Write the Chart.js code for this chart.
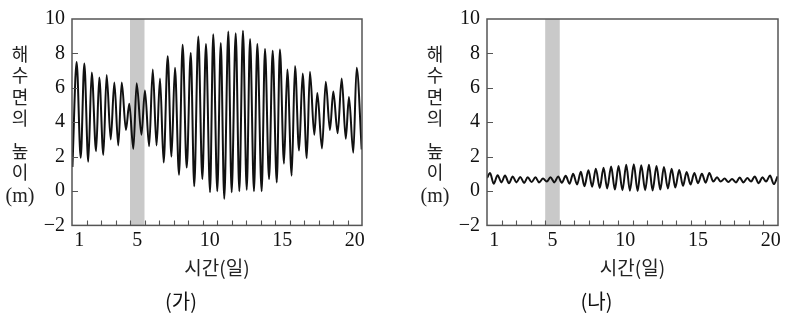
<!DOCTYPE html>
<html><head><meta charset="utf-8">
<script src="https://cdn.jsdelivr.net/npm/chart.js@4.4.0/dist/chart.umd.min.js"></script>
<style>
html,body{margin:0;padding:0;background:#fff;width:785px;height:325px;overflow:hidden}
#a{position:absolute;left:0;top:0}
#b{position:absolute;left:415px;top:0}
</style></head>
<body>
<div id="a"><canvas id="ca" width="392" height="325"></canvas></div>
<div id="b"><canvas id="cb" width="370" height="325"></canvas></div>
<script>
// ---- data ----
const dayLabels = [1, 5, 10, 15, 20];
const yTicks = [-2, 0, 2, 4, 6, 8, 10];
const band = [4, 5];           // day 5 shaded
const panelLabels = ['(가)', '(나)'];
const xTitle = '시간(일)';
const yTitleChars = ['해', '수', '면', '의', '높', '이', '(m)'];

// (가): successive low / high water times (days) and heights (m)
const timesA = [0.03,0.32,0.60,0.85,1.12,1.36,1.66,1.88,2.16,2.39,
  2.67,2.92,3.19,3.43,3.72,3.95,4.23,4.46,4.79,5.03,
  5.32,5.57,5.83,6.07,6.32,6.60,6.86,7.10,7.38,7.63,
  7.91,8.19,8.43,8.71,8.99,9.24,9.52,9.74,10.02,10.26,
  10.50,10.78,11.01,11.29,11.54,11.79,12.05,12.28,12.55,12.78,
  13.08,13.31,13.59,13.84,14.12,14.34,14.62,14.85,15.15,15.38,
  15.66,15.91,16.19,16.41,16.71,16.92,17.24,17.50,17.79,18.02,
  18.32,18.60,18.88,19.10,19.40,19.63,19.98];
const levelsA = [1.4,7.5,1.93,7.42,1.7,6.89,2.31,6.6,2.1,6.75,
  3.0,6.31,2.65,6.31,3.55,5.07,2.45,6.26,3.27,5.84,
  2.6,7.07,2.65,6.54,1.65,7.84,2.0,7.17,0.95,8.5,
  1.36,8.03,0.28,8.98,0.7,8.54,-0.07,9.11,-0.01,8.6,
  -0.45,9.27,-0.07,9.17,-0.01,9.32,0.07,8.83,-0.01,8.54,
  -0.01,8.26,0.7,8.16,0.5,8.22,1.59,7.07,0.89,7.27,
  2.35,6.83,1.9,6.93,3.27,5.7,2.47,6.35,3.55,5.78,
  3.36,6.54,3.04,5.46,2.22,7.17,2.41];

// (나)
const timesB = [0.00,0.21,0.46,0.73,0.99,1.24,1.51,1.77,2.02,2.29,
  2.55,2.80,3.07,3.33,3.58,3.85,4.11,4.36,4.63,4.89,
  5.14,5.41,5.67,5.92,6.19,6.45,6.70,6.97,7.23,7.48,
  7.75,8.01,8.26,8.53,8.79,9.04,9.31,9.57,9.82,10.09,
  10.35,10.60,10.87,11.13,11.38,11.65,11.91,12.16,12.43,12.69,
  12.94,13.21,13.47,13.72,13.99,14.25,14.50,14.77,15.03,15.28,
  15.55,15.81,16.06,16.33,16.59,16.84,17.11,17.37,17.62,17.89,
  18.15,18.40,18.67,18.93,19.18,19.45,19.71,19.97];
const levelsB = [0.75,1.05,0.42,0.92,0.5,0.9,0.45,0.85,0.5,0.82,
  0.47,0.8,0.52,0.8,0.5,0.72,0.55,0.8,0.5,0.85,
  0.48,0.88,0.42,1.0,0.38,1.12,0.28,1.2,0.25,1.3,
  0.18,1.35,0.15,1.42,0.08,1.45,0.05,1.52,0.02,1.55,
  0.0,1.5,0.05,1.52,0.03,1.45,0.08,1.4,0.15,1.3,
  0.2,1.22,0.3,1.1,0.38,1.05,0.45,1.0,0.48,1.05,
  0.55,0.8,0.55,0.72,0.52,0.7,0.5,0.78,0.5,0.75,
  0.55,0.85,0.45,0.8,0.55,0.9,0.4,0.85];

// ---- drawing ----
const SERIF = "'Liberation Serif', 'DejaVu Serif', serif";
const KR = "'Noto Sans CJK KR', 'Noto Sans', sans-serif";
const INK = '#111';

const framePlugin = {
  id: 'frame',
  beforeDatasetsDraw(chart) {
    const {ctx, chartArea: a, scales: {x}} = chart;
    const x0 = x.getPixelForValue(band[0]), x1 = x.getPixelForValue(band[1]);
    ctx.save();
    ctx.fillStyle = '#c9c9c9';
    ctx.fillRect(x0, a.top, x1 - x0, a.bottom - a.top);
    ctx.restore();
  },
  afterDraw(chart) {
    const {ctx, chartArea: a, scales: {x, y}} = chart;
    ctx.save();
    ctx.strokeStyle = '#555';
    ctx.lineWidth = 1.5;
    ctx.strokeRect(a.left, a.top, a.right - a.left, a.bottom - a.top);
    ctx.lineWidth = 1.1;
    ctx.beginPath();
    for (let d = 1; d < 20; d++) {
      const px = Math.round(x.getPixelForValue(d)) + 0.5;
      ctx.moveTo(px, a.bottom); ctx.lineTo(px, a.bottom - 5);
    }
    yTicks.forEach(v => {
      if (v <= -2 || v >= 10) return;
      const py = Math.round(y.getPixelForValue(v)) + 0.5;
      ctx.moveTo(a.left, py); ctx.lineTo(a.left + 6, py);
    });
    ctx.stroke();
    // vertical y-axis title
    ctx.fillStyle = '#222';
    ctx.textAlign = 'center';
    ctx.textBaseline = 'middle';
    const cx = a.left - 52;
    const offs = [35, 56.5, 78, 99.5, 132.5, 153, 178];
    yTitleChars.forEach((c, i) => {
      ctx.font = (c === '(m)' ? '20px ' + SERIF : '18px ' + KR);
      ctx.fillText(c, cx, a.top + offs[i]);
    });
    ctx.restore();
  }
};

function makeChart(id, times, levels, label, padRight) {
  const pts = times.map((t, i) => ({x: t, y: levels[i]}));
  return new Chart(document.getElementById(id), {
    type: 'line',
    data: {datasets: [{data: pts, borderColor: '#111', borderWidth: 2,
      pointRadius: 0, cubicInterpolationMode: 'monotone', fill: false}]},
    options: {
      responsive: false, animation: false, events: [],
      layout: {padding: {left: 0, right: padRight, top: 15, bottom: 0}},
      plugins: {
        legend: {display: false}, tooltip: {enabled: false},
        title: {display: true, position: 'bottom', text: label, color: INK,
          font: {family: KR, size: 20, weight: 'normal'}, padding: {top: 9, bottom: 11.6}}
      },
      scales: {
        x: {
          type: 'linear', min: 0, max: 20,
          afterBuildTicks: s => { s.ticks = dayLabels.map(d => ({value: d - 0.5})); },
          afterFit: s => { s.height = 55; },
          ticks: {callback: v => String(Math.round(v + 0.5)), autoSkip: false, maxRotation: 0,
            color: INK, padding: 3, font: {family: SERIF, size: 20}},
          grid: {display: false, drawTicks: false}, border: {display: false},
          title: {display: true, text: xTitle, color: '#222', padding: {top: 0, bottom: 1},
            font: {family: KR, size: 19}}
        },
        y: {
          min: -2, max: 10,
          afterBuildTicks: s => { s.ticks = yTicks.map(v => ({value: v})); },
          afterFit: s => { s.width = 72; },
          ticks: {callback: v => v < 0 ? '\u2212' + Math.abs(v) : String(v),
            color: INK, padding: 7, font: {family: SERIF, size: 20}},
          grid: {display: false, drawTicks: false}, border: {display: false}
        }
      }
    },
    plugins: [framePlugin]
  });
}

makeChart('ca', timesA, levelsA, panelLabels[0], 30);
makeChart('cb', timesB, levelsB, panelLabels[1], 7);
</script>
</body></html>
